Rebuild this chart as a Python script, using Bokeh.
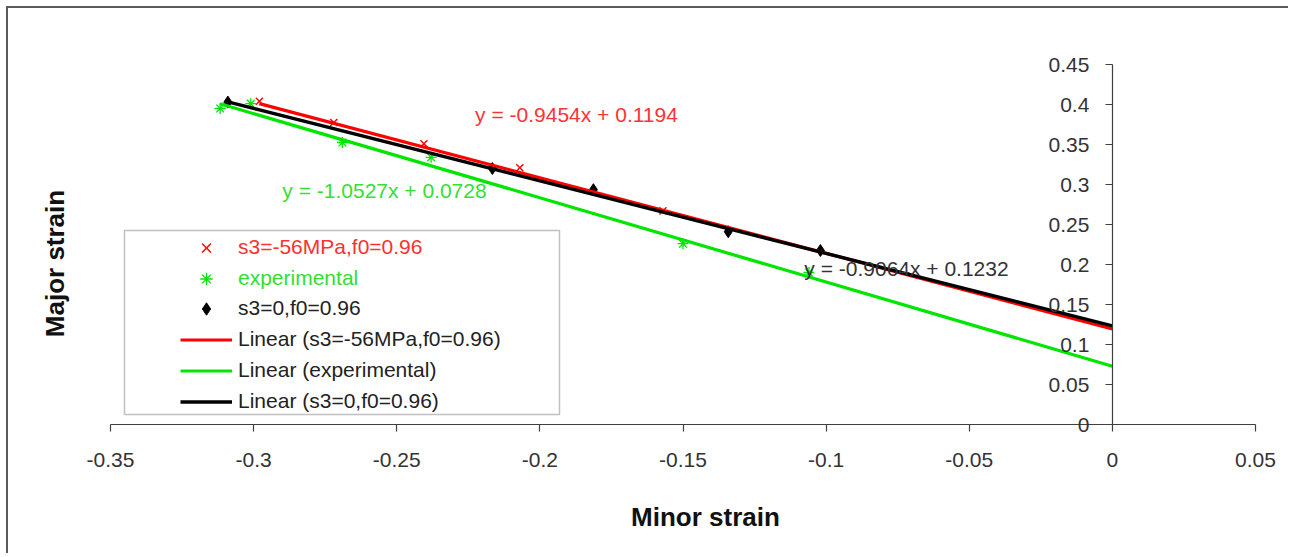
import math
from bokeh.plotting import figure
from bokeh.models import Range1d, FixedTicker, Legend, LegendItem, Label, BoxAnnotation
from bokeh.embed import file_html
from bokeh.resources import INLINE

# ---------------- data ----------------
sim56_x = [-0.298, -0.272, -0.2405, -0.207, -0.157]
sim56_y = [0.404, 0.3775, 0.351, 0.321, 0.267]

exp_x = [-0.3117, -0.301, -0.269, -0.238, -0.150, -0.106]
exp_y = [0.395, 0.401, 0.3525, 0.334, 0.226, 0.190]

sim0_x = [-0.309, -0.2166, -0.1813, -0.1342, -0.102]
sim0_y = [0.403, 0.320, 0.2935, 0.241, 0.2175]

# linear trendlines (slope, intercept) as printed on the chart
fit_sim56 = (-0.9454, 0.1194)
fit_exp = (-1.0527, 0.0728)
fit_sim0 = (-0.9064, 0.1232)

series_names = ["s3=-56MPa,f0=0.96", "experimental", "s3=0,f0=0.96"]

x_ticks = [-0.35, -0.3, -0.25, -0.2, -0.15, -0.1, -0.05, 0, 0.05]
x_tick_labels = ["-0.35", "-0.3", "-0.25", "-0.2", "-0.15", "-0.1", "-0.05", "0", "0.05"]
y_ticks = [0, 0.05, 0.1, 0.15, 0.2, 0.25, 0.3, 0.35, 0.4, 0.45]
y_tick_labels = ["0", "0.05", "0.1", "0.15", "0.2", "0.25", "0.3", "0.35", "0.4", "0.45"]

# ---------------- colours / fonts ----------------
RED = "#ff0000"
GREEN = "#00e600"
BLACK = "#000000"
FONT = "Liberation Sans"

# layout: canvas origin on the page and where the axes should land (page pixels)
W, H = 1282, 547
OX, OY = 8, 8
PX_LEFT, PX_RIGHT = 110.0, 1255.0   # x = -0.35 ... 0.05
PY_TOP, PY_BOT = 64.0, 424.0        # y = 0.45 ... 0
XA, XB = x_ticks[0], x_ticks[-1]
YA, YB = y_ticks[0], y_ticks[-1]


def px2x(px):
    return XA + (px - PX_LEFT) / (PX_RIGHT - PX_LEFT) * (XB - XA)


def py2y(py):
    return YA + (PY_BOT - py) / (PY_BOT - PY_TOP) * (YB - YA)


p = figure(width=W, height=H, output_backend="svg", toolbar_location=None,
           x_range=Range1d(px2x(OX), px2x(OX + W)),
           y_range=Range1d(py2y(OY + H), py2y(OY)),
           min_border_left=0, min_border_right=0, min_border_top=0, min_border_bottom=0)
p.title.visible = False
p.styles = {"margin-left": "6px", "margin-top": "6px",
            "border-left": "2px solid #5a5a5a", "border-top": "2px solid #5a5a5a"}
p.xgrid.visible = False
p.ygrid.visible = False
p.outline_line_color = None
p.background_fill_color = "white"
p.border_fill_color = "white"

xa = p.xaxis[0]
ya = p.yaxis[0]
xa.fixed_location = 0
ya.fixed_location = 0
xa.bounds = (XA, XB)
ya.bounds = (YA, YB)
for ax in (xa, ya):
    ax.axis_line_color = "#404040"
    ax.axis_line_width = 1.2
    ax.major_tick_line_color = "#404040"
    ax.major_tick_line_width = 1.2
    ax.major_tick_in = 0
    ax.major_tick_out = 7
    ax.minor_tick_line_color = None
    ax.major_label_text_font = FONT
    ax.major_label_text_font_size = "21px"
    ax.major_label_text_color = "#333333"
xa.ticker = FixedTicker(ticks=x_ticks)
xa.major_label_overrides = dict(zip(x_ticks, x_tick_labels))
xa.major_label_standoff = 21
ya.ticker = FixedTicker(ticks=y_ticks)
ya.major_label_overrides = dict(zip(y_ticks, y_tick_labels))
ya.major_label_standoff = 16

# ---------------- markers ----------------
r_red = p.scatter(sim56_x, sim56_y, marker="x", size=10, line_color=RED, line_width=1.4)
r_green = p.scatter(exp_x, exp_y, marker="asterisk", size=11, line_color=GREEN, line_width=1.3)
r_black = p.scatter(sim0_x, sim0_y, marker="diamond", size=12, line_color=BLACK, fill_color=BLACK)


def trend(xs, fit):
    m, b = fit
    lx = [min(xs), 0]
    return lx, [m * v + b for v in lx]


gx, gy = trend(exp_x, fit_exp)
l_green = p.line(gx, gy, line_color=GREEN, line_width=3.2)
rx, ry = trend(sim56_x, fit_sim56)
l_red = p.line(rx, ry, line_color=RED, line_width=3.2)
bx, by = trend(sim0_x, fit_sim0)
l_black = p.line(bx, by, line_color=BLACK, line_width=3.4)


# ---------------- equation labels ----------------
def eq(fit):
    return f"y = {fit[0]:.4f}x + {fit[1]:.4f}"


for fit, cx, cy, col in [(fit_sim56, 576, 114, "#ff3333"),
                         (fit_exp, 384, 190, "#33e033"),
                         (fit_sim0, 906, 268, "#333333")]:
    p.add_layout(Label(x=px2x(cx), y=py2y(cy), text=eq(fit), text_align="center",
                       text_baseline="middle", text_font=FONT, text_font_size="21px",
                       text_color=col))

# ---------------- axis titles ----------------
p.add_layout(Label(x=px2x(705), y=py2y(516), text="Minor strain", text_align="center",
                   text_baseline="middle", text_font=FONT, text_font_size="26px",
                   text_font_style="bold", text_color="#111111"))
p.add_layout(Label(x=px2x(54), y=py2y(263), text="Major strain", text_align="center",
                   text_baseline="middle", angle=math.pi / 2, text_font=FONT,
                   text_font_size="26px", text_font_style="bold", text_color="#111111"))

# ---------------- legend ----------------
box = BoxAnnotation(left=px2x(124), right=px2x(559), top=py2y(230), bottom=py2y(414),
                    fill_color="white", fill_alpha=1.0, line_color="#333333", line_width=1.5)
p.add_layout(box)

common = dict(glyph_width=52, glyph_height=31, label_height=31, label_standoff=6, spacing=0,
              padding=0, margin=0, border_line_color=None, background_fill_alpha=0,
              label_text_font=FONT, label_text_font_size="21px")
FRAME_BOTTOM = OY + H
GLYPH_LEFT = 180 - OX

leg_red = Legend(items=[LegendItem(label=series_names[0], renderers=[r_red])],
                 location=(GLYPH_LEFT, FRAME_BOTTOM - 262.5), label_text_color="#ff3030", **common)
leg_green = Legend(items=[LegendItem(label=series_names[1], renderers=[r_green])],
                   location=(GLYPH_LEFT, FRAME_BOTTOM - 293.5), label_text_color="#30e030", **common)
leg_black = Legend(items=[LegendItem(label=series_names[2], renderers=[r_black]),
                          LegendItem(label=f"Linear ({series_names[0]})", renderers=[l_red]),
                          LegendItem(label=f"Linear ({series_names[1]})", renderers=[l_green]),
                          LegendItem(label=f"Linear ({series_names[2]})", renderers=[l_black])],
                   location=(GLYPH_LEFT, FRAME_BOTTOM - 416.5), label_text_color="#222222", **common)
for lg in (leg_red, leg_green, leg_black):
    p.add_layout(lg, "center")

open("out.html", "w").write(file_html(p, INLINE))
